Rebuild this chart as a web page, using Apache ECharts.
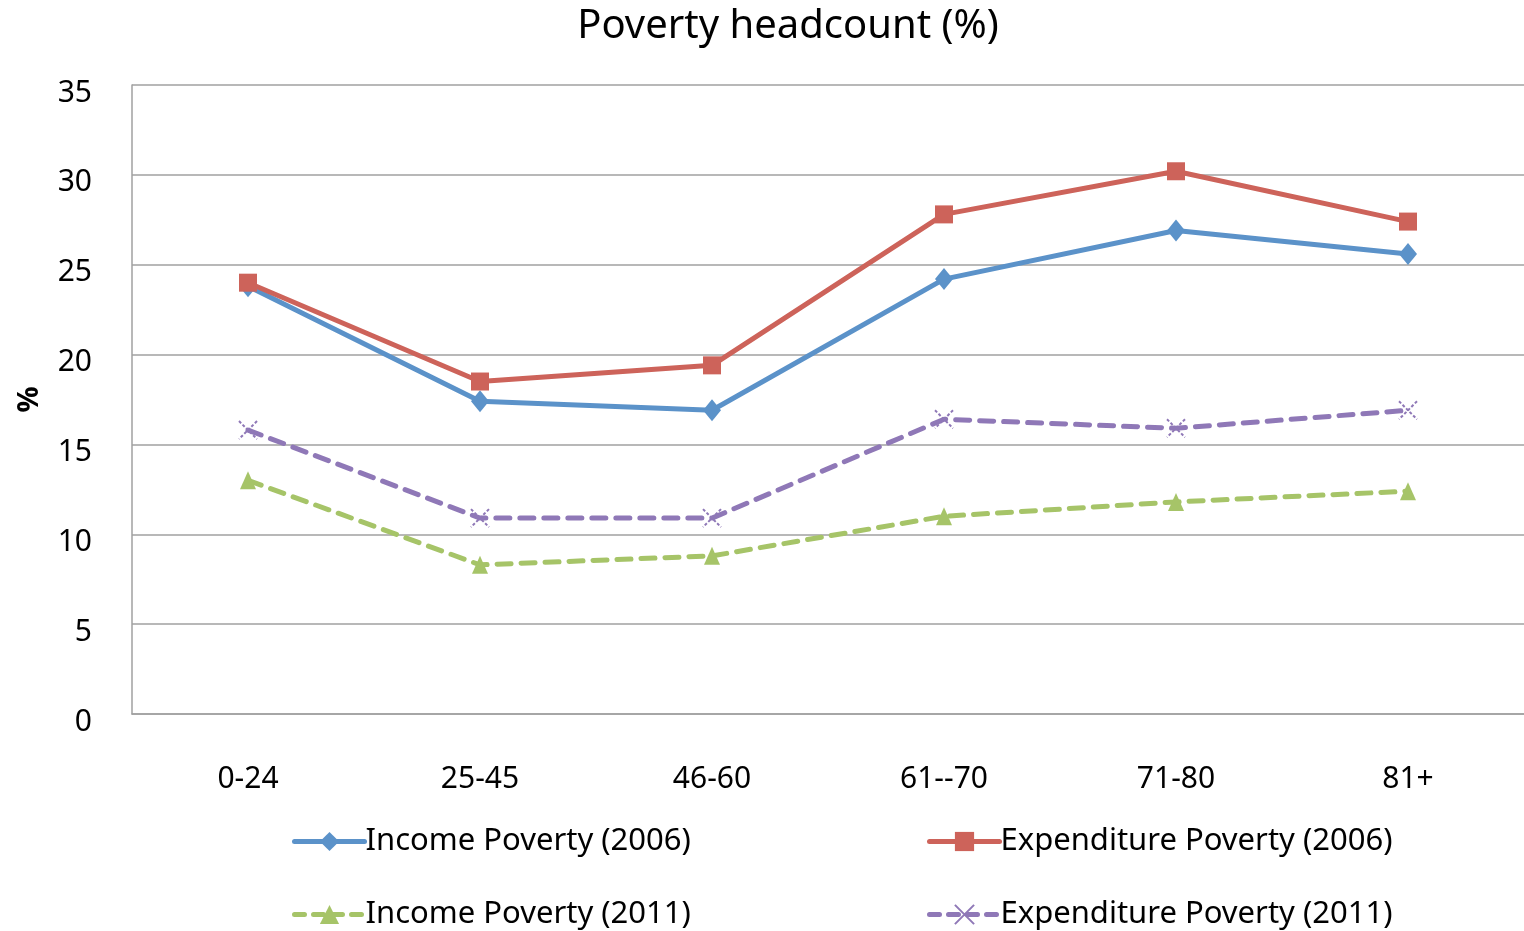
<!DOCTYPE html>
<html>
<head>
<meta charset="utf-8">
<script src="https://cdn.jsdelivr.net/npm/echarts@6/dist/echarts.min.js"></script>
<style>
  html, body { margin: 0; padding: 0; background: #fff; }
  #chart { width: 1524px; height: 931px; }
</style>
</head>
<body>
<div id="chart"></div>
<script>
// Age groups along the x axis
const ageGroups = ['0-24', '25-45', '46-60', '61--70', '71-80', '81+'];

// Poverty headcount (%) by age group
const incomePoverty2006 = [23.8, 17.4, 16.9, 24.2, 26.9, 25.6];
const expenditurePoverty2006 = [24.0, 18.5, 19.4, 27.8, 30.2, 27.4];
const incomePoverty2011 = [13.0, 8.3, 8.8, 11.0, 11.8, 12.4];
const expenditurePoverty2011 = [15.8, 10.9, 10.9, 16.4, 15.9, 16.9];

const seriesNames = [
  'Income Poverty (2006)',
  'Expenditure Poverty (2006)',
  'Income Poverty (2011)',
  'Expenditure Poverty (2011)'
];

const FONT = '"Noto Sans", sans-serif';
const crossPath = 'path://M0,0 L10,10 M10,0 L0,10 M0,0 L0.01,0 M10,10 L9.99,10';

const COLORS = ['#5b92c9', '#cd635a', '#a6c468', '#8f78b7'];
const dashed = [14, 10];

const chart = echarts.init(document.getElementById('chart'));

function legendAt(name, left, top, dash) {
  return {
    data: [name],
    left: left,
    top: top,
    itemWidth: 70,
    itemHeight: 24,
    itemGap: 0,
    selectedMode: false,
    lineStyle: { width: 5, type: dash ? [10, 9] : 'solid', cap: 'round' },
    textStyle: { fontFamily: FONT, fontSize: 31, color: '#000', padding: [0, 0, 0, -4] }
  };
}

chart.setOption({
  animation: false,
  backgroundColor: '#fff',
  title: {
    text: 'Poverty headcount (%)',
    left: 783,
    textAlign: 'center',
    top: 2,
    textStyle: { fontFamily: FONT, fontSize: 40, fontWeight: 'normal', color: '#000' }
  },
  grid: { left: 132, right: 0, top: 85, bottom: 217, containLabel: false },
  legend: [
    legendAt(seriesNames[0], 287, 821, false),
    legendAt(seriesNames[1], 922, 821, false),
    legendAt(seriesNames[2], 287, 894, true),
    legendAt(seriesNames[3], 922, 894, true)
  ],
  xAxis: {
    type: 'category',
    data: ageGroups,
    boundaryGap: true,
    axisLine: { lineStyle: { color: '#a0a0a0', width: 1.5 } },
    axisTick: { show: false },
    axisLabel: { fontFamily: FONT, fontSize: 30, color: '#000', margin: 50 }
  },
  yAxis: {
    type: 'value',
    min: 0,
    max: 35,
    interval: 5,
    name: '%',
    nameLocation: 'middle',
    nameGap: 88,
    nameRotate: 90,
    nameTextStyle: { fontFamily: FONT, fontSize: 29, fontWeight: 'bold', color: '#000' },
    axisLine: { show: true, lineStyle: { color: '#a0a0a0', width: 1.5 } },
    axisTick: { show: false },
    axisLabel: {
      margin: 40,
      formatter: function (v) { return '{t|' + v + '}'; },
      rich: { t: { fontFamily: FONT, fontSize: 30, color: '#000', padding: [16, 0, 0, 0] } }
    },
    splitLine: { lineStyle: { color: '#a0a0a0', width: 1.5 } }
  },
  series: [
    {
      name: seriesNames[0],
      type: 'line',
      data: incomePoverty2006,
      symbol: 'diamond',
      symbolSize: [18, 22],
      itemStyle: { color: COLORS[0] },
      lineStyle: { color: COLORS[0], width: 5 },
      z: 3
    },
    {
      name: seriesNames[1],
      type: 'line',
      data: expenditurePoverty2006,
      symbol: 'rect',
      symbolSize: 18,
      itemStyle: { color: COLORS[1] },
      lineStyle: { color: COLORS[1], width: 5 },
      z: 4
    },
    {
      name: seriesNames[2],
      type: 'line',
      data: incomePoverty2011,
      symbol: 'triangle',
      symbolSize: [16, 18],
      itemStyle: { color: COLORS[2] },
      lineStyle: { color: COLORS[2], width: 5, type: dashed, cap: 'round' },
      z: 2
    },
    {
      name: seriesNames[3],
      type: 'line',
      data: expenditurePoverty2011,
      symbol: crossPath,
      symbolSize: 18,
      itemStyle: { color: 'transparent', borderColor: COLORS[3], borderWidth: 2, borderType: [3, 2] },
      lineStyle: { color: COLORS[3], width: 5, type: dashed, cap: 'round' },
      z: 2
    }
  ]
});
</script>
</body>
</html>
